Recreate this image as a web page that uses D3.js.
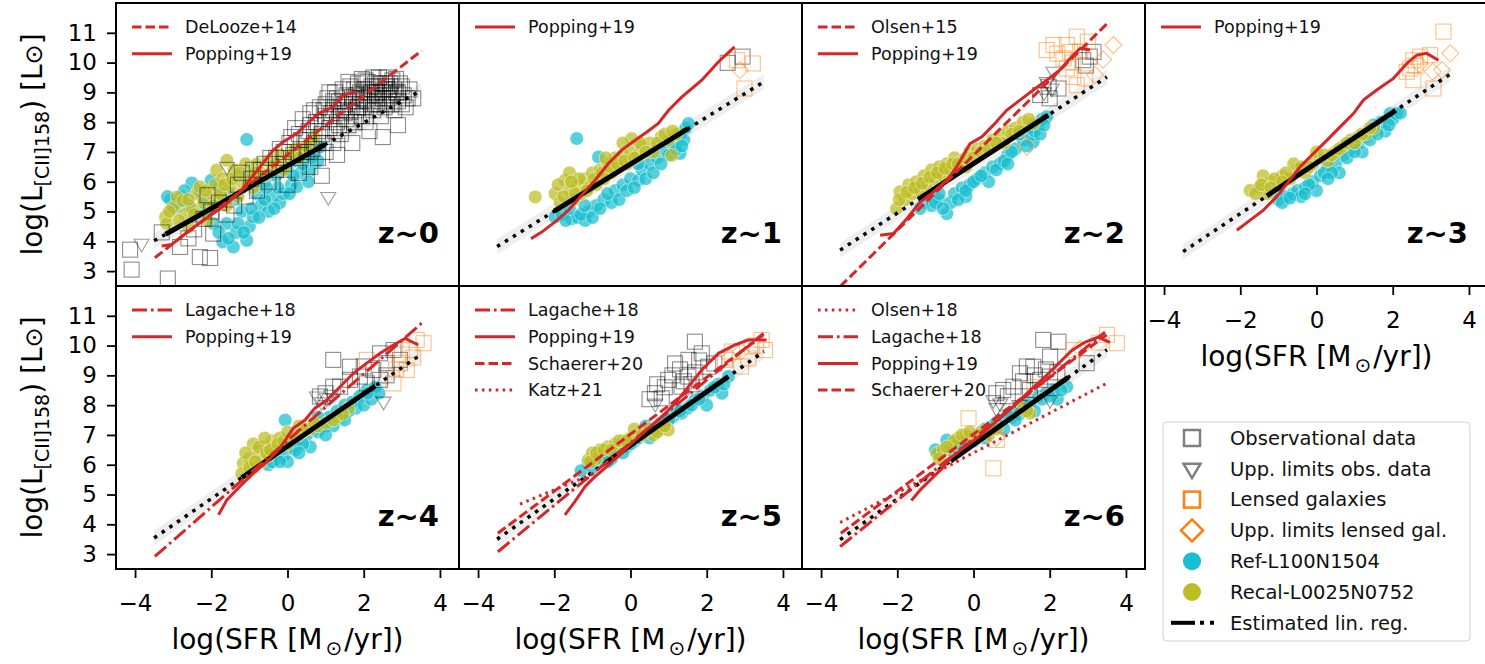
<!DOCTYPE html>
<html>
<head>
<meta charset="utf-8">
<script src="https://cdn.jsdelivr.net/npm/d3@7"></script>
<style>
  body { margin: 0; background: #fff; }
  svg { display: block; font-family: "DejaVu Sans", sans-serif; }
</style>
</head>
<body>
<svg id="chart" width="1485" height="664"></svg>
<script>
// ---- data ----
const zLabels = ["z~0", "z~1", "z~2", "z~3", "z~4", "z~5", "z~6"];
const xTicks = [-4, -2, 0, 2, 4];
const yTicks = [3, 4, 5, 6, 7, 8, 9, 10, 11];

// linear regression (intercept, slope), solid range = where the simulations sit
const regIntercept = [6.54, 6.59, 6.61, 6.63, 6.62, 6.65, 6.67];
const regSlope = [0.72, 0.79, 0.83, 0.85, 0.88, 0.90, 0.91];
const regSolid = [[-3.2, 0.98], [-2.0, 1.52], [-1.45, 1.96], [-1.3, 2.08], [-1.2, 2.3], [-0.65, 2.57], [-0.6, 2.49]];
const regExtent = [-3.5, 3.5];
const regScatter = 0.25;

// literature relations
const deLooze14 = [[-3.48, 3.45], [3.52, 10.40]];
const olsen15 = [[-3.5, 2.48], [3.5, 11.3]];
const lagache18z4 = [[-3.48, 2.92], [3.52, 10.75]];
const lagache18z5 = [[-3.48, 3.08], [3.49, 10.41]];
const lagache18z6 = [[-3.5, 3.25], [3.45, 10.45]];
const schaerer20 = [[-3.48, 3.70], [3.49, 10.36]];
const katz21 = [[-2.9, 4.68], [-0.9, 5.74]];
const olsen18 = [[-3.5, 4.06], [3.49, 8.73]];

const popping19 = [
  [[-3.30,3.84],[-3.04,3.89],[-2.82,4.12],[-2.56,4.37],[-2.30,4.62],[-1.95,4.93],[-1.59,5.27],[-1.25,5.66],[-1.03,6.0],[-0.72,6.5],[-0.37,7.06],[-0.11,7.34],[0.24,7.62],[0.50,7.93],[0.81,8.29],[1.20,8.51],[1.47,8.91],[1.60,8.96],[1.82,9.0]],
  [[-2.61,4.09],[-2.33,4.31],[-1.98,4.65],[-1.63,5.04],[-1.28,5.55],[-0.93,6.05],[-0.58,6.61],[-0.23,7.06],[0.12,7.39],[0.43,7.67],[0.73,7.96],[1.0,8.40],[1.35,8.85],[1.87,9.41],[2.31,10.03],[2.73,10.53]],
  [[-2.45,4.20],[-2.10,4.26],[-1.75,4.76],[-1.40,5.32],[-1.05,5.66],[-0.70,6.05],[-0.44,6.50],[-0.09,7.28],[0.22,7.51],[0.52,7.90],[0.87,8.40],[1.22,8.74],[1.57,9.08],[1.92,9.41],[2.27,9.75],[2.53,10.14],[2.80,10.48],[3.06,10.42]],
  [[-2.09,4.37],[-1.74,4.71],[-1.40,5.04],[-1.05,5.49],[-0.74,5.99],[-0.43,6.50],[-0.08,6.95],[0.27,7.39],[0.62,7.84],[0.97,8.29],[1.23,8.74],[1.58,9.08],[2.02,9.47],[2.37,9.97],[2.63,10.25],[2.89,10.31],[3.20,10.08]],
  [[-1.81,4.32],[-1.59,4.82],[-1.25,5.27],[-0.90,5.71],[-0.54,6.10],[-0.20,6.55],[0.15,7.22],[0.46,7.50],[0.72,7.90],[1.03,8.17],[1.38,8.62],[1.73,9.07],[2.08,9.41],[2.43,9.74],[2.78,10.02],[3.09,10.24],[3.43,10.02]],
  [[-1.72,4.32],[-1.46,4.76],[-1.19,5.27],[-0.93,5.60],[-0.58,5.99],[-0.23,6.39],[0.12,6.83],[0.47,7.22],[0.82,7.61],[1.17,8.06],[1.52,8.62],[1.87,9.18],[2.31,9.74],[2.74,10.02],[3.09,10.19],[3.57,10.19]],
  [[-1.63,4.80],[-1.37,5.19],[-1.11,5.52],[-0.84,5.86],[-0.58,6.25],[-0.23,6.59],[0.12,6.92],[0.47,7.31],[0.82,7.70],[1.17,8.10],[1.52,8.54],[1.87,8.94],[2.22,9.38],[2.57,9.83],[2.92,10.11],[3.27,10.28],[3.58,10.11]]
];

// which relations appear in each panel, in legend order
const panelModels = [
  [["DeLooze+14", "dash", deLooze14], ["Popping+19", "solid", popping19[0]]],
  [["Popping+19", "solid", popping19[1]]],
  [["Olsen+15", "dash", olsen15], ["Popping+19", "solid", popping19[2]]],
  [["Popping+19", "solid", popping19[3]]],
  [["Lagache+18", "dashdot", lagache18z4], ["Popping+19", "solid", popping19[4]]],
  [["Lagache+18", "dashdot", lagache18z5], ["Popping+19", "solid", popping19[5]], ["Schaerer+20", "dash", schaerer20], ["Katz+21", "dot", katz21]],
  [["Olsen+18", "dot", olsen18], ["Lagache+18", "dashdot", lagache18z6], ["Popping+19", "solid", popping19[6]], ["Schaerer+20", "dash", schaerer20]]
];

// observational data
const obsData = [
  [[-4.13,3.72],[-4.09,3.05],[-3.14,2.75],[-2.82,3.81],[-2.30,3.47],[-2.03,3.44],[-1.95,4.26],[-3.3,4.3],[-2.6,4.1],[-2.45,4.4],[-2.2,4.75],[-2.0,5.0],[-1.8,5.3],[-2.1,5.55],[-1.6,4.9],[-1.4,5.2],[-1.3,5.9],[-1.1,5.5],[-0.95,6.1],[-0.8,5.7],[-0.7,6.4],[-0.5,6.0],[-0.45,6.8],[-0.3,6.4],[-0.2,7.1],[-0.1,6.6],[0.0,5.9],[0.05,7.3],[0.15,6.9],[0.2,7.8],[0.3,6.3],[0.35,7.4],[0.4,8.1],[0.5,7.0],[0.55,7.7],[0.6,8.3],[0.7,7.3],[0.75,8.0],[0.8,6.8],[0.85,8.5],[0.9,7.6],[1.0,8.2],[1.0,7.0],[1.05,8.8],[1.1,7.8],[1.2,8.4],[1.2,7.3],[1.25,9.0],[1.3,8.0],[1.35,8.7],[1.4,7.6],[1.45,9.1],[1.5,8.3],[1.55,8.9],[1.6,7.9],[1.65,9.2],[1.7,8.5],[1.75,8.0],[1.8,8.9],[1.85,9.3],[1.9,8.6],[1.95,8.2],[2.0,9.1],[2.05,9.4],[2.1,8.7],[2.15,7.7],[2.2,9.0],[2.25,8.4],[2.3,9.3],[2.35,8.8],[2.4,9.5],[2.45,8.2],[2.5,9.0],[2.55,9.3],[2.6,8.6],[2.65,9.1],[2.7,8.9],[2.75,9.4],[2.8,8.4],[2.85,9.0],[2.9,8.7],[2.95,9.3],[3.05,8.9],[3.1,8.5],[3.2,9.1],[3.3,8.8],[2.9,7.9],[2.5,7.5],[1.7,7.3],[1.3,6.9],[0.6,6.5],[0.9,6.2],[1.6,8.7],[1.8,8.4],[2.0,8.8],[2.2,9.2],[2.4,8.9],[1.4,8.4],[1.1,8.1],[0.8,7.7],[2.6,9.2],[2.3,8.6],[1.9,9.0],[2.1,9.35],[2.7,9.3],[1.5,8.6],
   [0.6,7.9],[0.7,8.4],[0.9,8.0],[1.0,8.6],[1.1,9.0],[1.15,8.3],[1.3,8.8],[1.35,7.9],[1.45,8.5],[1.55,8.1],[1.6,9.35],[1.7,8.8],[1.75,9.1],[1.8,8.2],[1.9,8.8],[1.95,9.45],[2.0,8.5],[2.05,8.0],[2.1,9.1],[2.15,8.9],[2.2,8.6],[2.25,9.5],[2.3,8.9],[2.35,9.2],[2.4,8.6],[2.45,9.3],[2.5,8.8],[2.55,8.5],[2.6,9.5],[2.65,8.8],[2.7,9.2],[2.75,8.6],[2.8,9.1],[2.85,9.45],[2.9,9.0],[3.0,9.2],[3.0,8.6],[3.15,8.8],[1.2,8.7],[0.95,8.4],[0.5,7.5],[0.3,7.6],[0.1,7.5],[-0.1,7.0],[-0.3,6.8],[-0.6,6.6],[-0.9,6.4],[-1.2,6.3],[1.85,8.5],[2.05,8.75],[2.35,9.0],[2.55,9.1],[1.65,8.35],[1.4,8.2],[1.25,7.7],[0.95,7.3],[0.65,7.1],[0.35,6.9]],
  [[2.55,9.99],[2.94,10.2]],
  [[1.75,8.91],[1.97,9.19],[2.23,9.13],[2.0,8.8],[3.15,10.36],[2.88,10.08],[3.05,10.2],[2.95,9.9]],
  [],
  [[1.2,9.52],[0.85,8.29],[1.38,8.62],[1.64,8.85],[1.9,8.96],[2.25,9.18],[2.6,9.41],[2.43,9.74],[2.78,9.85],[2.95,9.52],[2.08,8.73],[1.64,9.29],[1.2,8.62],[2.43,8.85],[1.0,8.4],[2.0,9.3],[2.6,9.0]],
  [[1.69,10.13],[1.87,9.74],[1.52,9.52],[1.17,9.4],[0.99,8.85],[0.64,8.4],[0.82,8.23],[1.52,8.96],[2.04,9.29],[1.34,8.62],[0.5,8.2],[1.1,9.0],[1.3,9.2],[1.7,9.1],[0.9,8.6],[1.4,8.8],[1.8,9.5],[0.7,8.7],[2.2,9.4],[1.6,8.7]],
  [[1.83,10.19],[2.23,10.13],[2.01,9.63],[1.57,9.29],[1.75,8.85],[1.22,9.07],[0.78,8.51],[1.05,8.62],[1.48,8.51],[2.01,8.96],[2.97,9.41],[1.3,8.8],[1.6,9.0],[0.9,8.3],[1.9,9.2],[0.6,8.4],[1.4,9.3],[2.2,9.1]]
];
const obsLimits = [
  [[-3.83,3.92],[1.07,5.49],[-1.59,6.5]],
  [],
  [[1.92,9.35],[2.1,9.69],[2.05,9.13],[1.85,9.0]],
  [],
  [[0.77,8.29],[1.03,8.23],[2.52,8.12],[0.9,8.1],[1.15,8.35]],
  [[0.65,8.05]],
  [[0.52,8.17],[0.7,8.06],[2.01,8.17],[0.6,7.9],[1.2,8.0]]
];
const lensedData = [
  [],
  [[2.79,10.08],[3.21,9.97],[2.99,9.13]],
  [[1.92,10.42],[2.1,10.59],[2.45,10.59],[2.71,10.87],[2.80,10.36],[2.53,10.36],[2.36,10.14],[2.62,9.52],[2.71,9.24],[2.93,9.47],[2.2,10.3],[2.6,10.0],[2.45,9.8],[3.0,10.7]],
  [[3.33,11.04],[2.54,10.08],[2.46,9.8],[2.72,10.2],[2.98,10.25],[2.54,9.41],[3.07,9.13],[2.37,9.69],[2.6,9.9]],
  [[3.39,10.19],[3.57,10.08],[3.22,9.85],[2.95,9.41],[2.78,8.73],[3.13,9.18],[2.08,9.52],[3.0,9.7],[3.3,9.6],[2.85,9.2]],
  [[3.44,10.19],[3.18,9.97],[3.53,9.85],[2.48,9.52],[2.66,9.8],[3.09,9.57],[2.9,9.3],[3.3,10.0]],
  [[3.5,10.36],[3.76,10.08],[2.62,9.85],[-0.13,7.56],[0.52,5.88],[0.61,6.83],[3.3,10.1],[1.6,8.6]]
];
const lensedLimits = [
  [],
  [[2.875,9.75]],
  [[3.67,10.59],[3.19,9.58],[1.4,7.17],[3.4,10.1]],
  [[3.51,10.31],[3.29,9.75],[3.05,9.7],[2.7,9.95]],
  [],
  [[2.6,9.6],[2.9,9.8]],
  [[2.8,9.9],[0.6,6.9]]
];

// EAGLE simulations
const refL100 = [
  [[-3.07,5.38],[-3.15,5.5],[-2.95,5.1],[-2.8,5.5],[-2.51,5.96],[-2.6,5.2],[-2.3,5.7],[-2.2,5.0],[-2.0,6.05],[-1.9,5.3],[-1.7,3.98],[-1.6,4.6],[-1.5,5.6],[-1.42,3.81],[-1.35,4.3],[-1.2,5.0],[-1.07,7.42],[-1.07,4.03],[-1.0,4.5],[-0.9,4.82],[-0.8,5.6],[-0.7,5.2],[-0.6,6.0],[-0.5,5.0],[-0.4,5.5],[-0.3,6.2],[-0.2,5.3],[-0.11,5.6],[0.0,6.4],[0.1,5.9],[0.2,6.7],[0.24,5.83],[0.35,6.3],[0.5,6.9],[0.59,6.39],[0.7,7.1],[0.85,7.17],[0.8,6.7],[-1.3,6.2],[-0.9,6.3],[-2.4,4.9],[-1.8,5.8],
   [-2.9,5.3],[-2.7,5.7],[-2.2,5.4],[-1.95,4.6],[-1.8,4.3],[-1.55,4.1],[-1.3,4.6],[-1.15,4.3],[-0.95,5.1],[-0.75,4.8],[-0.6,5.4],[-0.35,5.1],[-0.25,5.8],[0.05,5.6],[0.15,6.2],[0.4,6.6],[0.55,6.0],[0.65,6.8],[-1.4,5.4],[-0.55,5.8]],
  [[-1.98,4.82],[-1.8,4.9],[-1.54,4.76],[-1.4,4.8],[-1.19,4.7],[-1.1,5.0],[-1.41,7.45],[-0.84,6.83],[-0.9,5.2],[-0.7,5.4],[-0.5,5.3],[-0.4,5.7],[-0.2,5.9],[0.0,6.1],[0.21,6.05],[0.3,6.4],[0.5,6.6],[0.7,6.8],[0.9,7.1],[1.1,7.3],[1.3,6.95],[1.3,7.6],[1.45,7.8],[1.52,7.95],[1.4,7.4],[1.0,6.9],[-1.6,5.1],[-0.3,5.4],
   [-1.7,4.7],[-1.3,4.9],[-1.0,4.8],[-0.8,5.1],[-0.6,5.6],[-0.1,5.7],[0.1,5.8],[0.4,6.1],[0.6,6.3],[0.8,6.6],[1.2,7.1],[1.35,7.2],[-1.2,5.2],[0.2,6.6]],
  [[-1.3,5.3],[-1.1,5.2],[-0.9,5.4],[-0.7,4.93],[-0.6,5.3],[-0.5,5.6],[-0.3,5.8],[-0.1,5.9],[0.1,6.1],[0.3,6.3],[0.5,6.5],[0.7,6.61],[0.9,6.9],[1.1,7.1],[1.3,7.4],[1.5,7.6],[1.57,7.34],[1.7,7.9],[1.8,8.1],[1.92,8.18],[1.2,7.6],[0.4,6.0],[-0.2,5.5],
   [-1.4,5.1],[-1.0,5.3],[-0.8,5.1],[-0.4,5.4],[-0.2,5.7],[0.0,6.0],[0.2,6.2],[0.6,6.4],[0.8,6.7],[1.0,7.0],[1.4,7.2],[1.6,7.7],[1.75,7.6],[1.85,7.9],[0.9,6.6],[-0.9,5.6]],
  [[-1.0,5.4],[-0.8,5.5],[-0.61,5.6],[-0.5,5.7],[-0.3,5.8],[-0.1,6.0],[0.1,6.2],[0.3,6.5],[0.5,6.6],[0.7,6.9],[0.9,7.1],[1.1,7.3],[1.3,7.5],[1.5,7.7],[1.7,8.0],[1.93,8.29],[2.1,8.3],[1.8,7.7],[1.2,7.0],[0.6,6.3],[0.0,5.7],[-0.4,5.5],[1.5,7.9],[2.0,8.1],
   [-0.9,5.3],[-0.7,5.45],[-0.2,5.9],[0.2,6.3],[0.4,6.3],[0.8,6.8],[1.0,7.0],[1.4,7.4],[1.6,7.6],[1.9,7.9],[2.2,8.3],[-0.3,5.6],[0.3,6.1],[1.0,7.3]],
  [[-0.06,7.5],[-0.5,6.0],[-0.3,6.2],[-0.1,6.3],[0.1,6.6],[0.3,6.8],[0.5,7.0],[0.7,7.2],[0.9,7.4],[1.1,7.6],[1.3,7.8],[1.5,8.0],[1.7,8.1],[1.9,8.3],[2.08,8.51],[2.3,8.6],[1.2,7.3],[0.6,6.6],[1.8,7.9],[0.0,6.1],[2.0,8.0],
   [-0.4,6.1],[-0.2,6.1],[0.2,6.5],[0.4,6.7],[0.8,7.1],[1.0,7.3],[1.4,7.6],[1.6,7.8],[2.2,8.2],[2.4,8.4],[0.3,6.4],[1.0,7.0],[1.5,7.5],[2.1,8.4],[0.8,7.6]],
  [[-1.11,6.05],[-0.9,6.1],[-0.7,6.3],[-0.5,6.2],[-0.3,6.5],[-0.1,6.6],[0.1,6.8],[0.3,7.0],[0.5,7.1],[0.7,7.3],[0.9,7.5],[1.1,7.6],[1.34,7.73],[1.5,7.9],[1.69,8.17],[1.9,8.3],[2.1,8.5],[2.3,8.7],[2.57,8.96],[2.4,8.4],[1.2,7.9],[0.4,7.3],[-1.3,5.8],[2.0,8.0],
   [-1.0,5.9],[-0.8,6.2],[-0.6,6.1],[-0.4,6.4],[-0.2,6.4],[0.0,6.7],[0.2,6.9],[0.6,7.2],[0.8,7.4],[1.0,7.5],[1.3,7.8],[1.6,8.0],[1.8,8.2],[2.2,8.6],[2.45,8.7],[0.5,6.9]],
  [[-0.7,6.83],[-1.0,6.5],[-0.5,6.6],[-0.3,6.8],[-0.1,6.9],[0.1,7.0],[0.3,7.2],[0.5,7.3],[0.7,7.5],[0.9,7.7],[1.1,7.8],[1.3,8.0],[1.5,8.1],[1.7,8.3],[1.9,8.4],[2.1,8.5],[2.45,8.62],[2.2,8.2],[1.6,7.8],[0.8,7.2],
   [-0.9,6.4],[-0.6,6.5],[-0.4,6.7],[-0.2,6.8],[0.0,6.8],[0.2,7.0],[0.4,7.2],[0.6,7.4],[1.0,7.6],[1.2,7.7],[1.4,8.0],[1.8,8.2],[2.0,8.3],[2.3,8.5],[0.3,6.9],[1.1,7.5]]
];
const recalL25 = [
  [[-3.2,4.82],[-3.17,4.6],[-3.0,5.14],[-2.9,5.49],[-2.75,5.36],[-2.7,4.9],[-2.5,5.1],[-2.38,5.6],[-2.3,5.83],[-2.2,5.3],[-2.1,4.7],[-2.0,5.6],[-1.9,5.9],[-1.86,6.39],[-1.8,5.4],[-1.7,6.1],[-1.59,6.72],[-1.5,5.8],[-1.4,6.4],[-1.3,5.5],[-1.2,6.0],[-1.1,6.6],[-1.0,6.2],[-0.9,5.8],[-0.8,6.6],[-0.7,6.3],[-0.5,6.7],[-0.4,6.4],[-0.2,6.9],[0.0,6.7],[0.2,7.1],[0.4,7.0],[0.59,7.28],[0.7,7.5],[-2.6,4.5],[-1.6,5.2],
   [-3.1,5.0],[-2.85,4.7],[-2.6,5.4],[-2.45,4.9],[-2.15,5.7],[-1.95,5.2],[-1.75,5.6],[-1.65,5.9],[-1.45,6.1],[-1.25,6.3],[-1.05,5.9],[-0.85,6.3],[-0.6,6.2],[-0.3,6.6],[-0.1,6.4],[0.1,6.9],[0.3,6.8],[0.5,7.2]],
  [[-2.5,5.49],[-1.98,5.6],[-1.85,5.3],[-1.72,6.05],[-1.6,5.7],[-1.5,5.4],[-1.4,5.9],[-1.3,5.6],[-1.2,6.1],[-1.1,5.8],[-1.0,6.3],[-0.9,5.9],[-0.8,6.4],[-0.7,6.1],[-0.6,6.6],[-0.5,6.3],[-0.4,6.8],[-0.3,6.5],[-0.2,6.9],[-0.1,6.6],[0.0,7.0],[0.03,7.45],[0.2,6.9],[0.3,7.2],[0.5,7.3],[0.6,7.0],[0.8,7.5],[1.0,7.4],[1.08,6.89],[1.2,7.6],[-1.6,6.3],[-0.2,7.3],
   [-1.9,5.9],[-1.75,5.5],[-1.45,5.6],[-1.35,6.1],[-1.15,5.7],[-0.95,6.1],[-0.75,6.3],[-0.55,6.5],[-0.35,6.6],[-0.15,6.7],[0.1,6.8],[0.25,7.3],[0.4,7.0],[0.7,7.3],[0.9,7.6],[1.1,7.7],[-1.55,6.0],[-0.65,6.8]],
  [[-2.02,5.1],[-1.93,5.66],[-1.8,5.4],[-1.7,5.9],[-1.6,5.6],[-1.5,6.0],[-1.4,5.7],[-1.3,6.2],[-1.2,5.9],[-1.1,6.4],[-1.0,6.1],[-0.9,6.5],[-0.8,6.2],[-0.7,6.6],[-0.6,6.4],[-0.5,6.8],[-0.3,6.7],[-0.1,7.0],[0.1,7.1],[0.3,7.2],[0.5,7.4],[0.7,7.5],[0.9,7.7],[1.1,7.8],[1.3,8.0],[1.57,7.95],[0.8,7.3],[-0.2,6.5],
   [-1.95,5.4],[-1.75,5.65],[-1.55,5.8],[-1.35,5.95],[-1.15,6.15],[-0.95,6.3],[-0.75,6.45],[-0.55,6.6],[-0.4,6.6],[-0.2,6.8],[0.0,6.8],[0.2,7.0],[0.4,7.1],[0.6,7.3],[1.0,7.6],[1.2,7.7],[1.45,8.1]],
  [[-1.74,5.71],[-1.5,5.8],[-1.3,5.6],[-1.2,6.0],[-1.0,5.9],[-0.9,6.2],[-0.7,6.1],[-0.5,6.4],[-0.3,6.3],[-0.1,6.6],[0.1,6.8],[0.3,6.7],[0.5,7.0],[0.7,7.2],[0.9,7.4],[1.1,7.5],[1.3,7.6],[1.5,7.8],[-0.6,6.6],[0.0,7.0],[-1.4,6.2],
   [-1.6,5.6],[-1.45,5.9],[-1.1,6.1],[-0.8,6.3],[-0.4,6.5],[-0.2,6.5],[0.2,6.9],[0.4,6.9],[0.6,7.1],[0.8,7.3],[1.0,7.3],[1.2,7.6],[1.4,7.8],[-0.9,6.0],[-1.2,5.8]],
  [[-1.16,6.05],[-1.2,5.7],[-1.0,6.2],[-0.9,5.9],[-0.8,6.4],[-0.7,6.1],[-0.6,6.6],[-0.5,6.3],[-0.4,6.8],[-0.3,6.5],[-0.2,6.9],[0.0,6.7],[0.2,7.0],[0.4,7.1],[0.6,7.2],[0.8,7.3],[1.0,7.4],[1.3,7.6],[1.6,7.9],[-0.9,6.7],[0.3,7.3],
   [-1.1,6.4],[-1.0,5.9],[-0.85,6.1],[-0.75,6.6],[-0.55,6.4],[-0.45,6.5],[-0.25,6.7],[-0.1,6.8],[0.1,6.9],[0.3,7.0],[0.5,7.2],[0.7,7.4],[1.2,7.5],[1.45,7.7],[-0.6,6.9],[0.0,7.1]],
  [[-1.11,6.16],[-1.0,6.4],[-0.8,6.5],[-0.6,6.6],[-0.4,6.7],[-0.2,6.8],[0.0,6.9],[0.2,7.0],[0.4,7.1],[0.6,7.0],[0.8,7.2],[0.99,7.17],[-0.9,6.2],[0.1,7.2],
   [-1.05,6.1],[-0.9,6.4],[-0.7,6.5],[-0.5,6.5],[-0.3,6.8],[-0.1,6.8],[0.3,7.0],[0.5,7.2],[0.7,7.1],[0.9,7.3]],
  [[-0.96,6.38],[-0.8,6.5],[-0.6,6.6],[-0.4,6.9],[-0.2,7.0],[0.0,6.9],[0.2,7.1],[0.4,7.0],[1.48,7.73],[1.3,7.9],[-0.5,6.8],
   [-0.9,6.2],[-0.7,6.6],[-0.3,7.0],[-0.1,7.1],[0.1,6.9],[0.3,7.1],[1.4,7.8],[0.6,7.2]]
];

const legendLabels = ["Observational data", "Upp. limits obs. data", "Lensed galaxies",
  "Upp. limits lensed gal.", "Ref-L100N1504", "Recal-L0025N0752", "Estimated lin. reg."];

// ---- layout / style ----
const LEFT = 116, TOP = 3, PW = 343, PH = 283;
const RED = "#d62728", CYAN = "#17becf", OLIVE = "#bcbd22", ORANGE = "#ff7f0e";
const dashes = { solid: null, dash: "9.5,4", dashdot: "15,4,2.6,4", dot: "2.6,4.3" };

const svg = d3.select("#chart");
const defs = svg.append("defs");
const x = d3.scaleLinear().domain([-4.5, 4.5]).range([0, PW]);
const y = d3.scaleLinear().domain([2.5, 12]).range([PH, 0]);
const line = d3.line().x(d => x(d[0])).y(d => y(d[1]));

function translate(a, b) { return "translate(" + a + "," + b + ")"; }

const trianglePath = r => `M${-r},${-r * 0.6} L${r},${-r * 0.6} L0,${r * 1.1} Z`;
const diamondPath = r => `M0,${-r} L${r},0 L0,${r} L${-r},0 Z`;

function addXLabel(g, cx, cy) {
  const t = g.append("text").attr("x", cx).attr("y", cy).attr("text-anchor", "middle")
    .style("font-size", "28px").attr("fill", "#000");
  t.append("tspan").text("log(SFR [M");
  t.append("tspan").attr("dy", 6).attr("dx", 3).style("font-size", "20px").text("⊙");
  t.append("tspan").attr("dy", -6).attr("dx", 2).text("/yr])");
}

zLabels.forEach(function (zl, i) {
  const col = i % 4, row = Math.floor(i / 4);
  const g = svg.append("g").attr("transform", translate(LEFT + col * PW, TOP + row * PH));
  defs.append("clipPath").attr("id", "clip" + i).append("rect").attr("width", PW).attr("height", PH);
  const plot = g.append("g").attr("clip-path", "url(#clip" + i + ")");

  // regression scatter band
  const a = regIntercept[i], b = regSlope[i];
  const x0 = regExtent[0], x1 = regExtent[1];
  plot.append("path")
    .attr("d", line([[x0, a + b * x0 + regScatter], [x1, a + b * x1 + regScatter],
                     [x1, a + b * x1 - regScatter], [x0, a + b * x0 - regScatter]]) + "Z")
    .attr("fill", "#d9d9d9").attr("fill-opacity", 0.45);

  // simulations
  [[refL100[i], CYAN], [recalL25[i], OLIVE]].forEach(function (s) {
    plot.selectAll(null).data(s[0]).enter().append("circle")
      .attr("cx", d => x(d[0])).attr("cy", d => y(d[1])).attr("r", 6.8)
      .attr("fill", s[1]).attr("fill-opacity", 0.72)
      .attr("stroke", "#fff").attr("stroke-width", 0.6).attr("stroke-opacity", 0.8);
  });

  // observations
  plot.selectAll(null).data(obsData[i]).enter().append("rect")
    .attr("x", d => x(d[0]) - 7.5).attr("y", d => y(d[1]) - 7.5).attr("width", 15).attr("height", 15)
    .attr("fill", "none").attr("stroke", "#000").attr("stroke-opacity", 0.45).attr("stroke-width", 1.1);
  plot.selectAll(null).data(obsLimits[i]).enter().append("path")
    .attr("d", trianglePath(7.5)).attr("transform", d => translate(x(d[0]), y(d[1])))
    .attr("fill", "none").attr("stroke", "#000").attr("stroke-opacity", 0.4).attr("stroke-width", 1.1);
  plot.selectAll(null).data(lensedData[i]).enter().append("rect")
    .attr("x", d => x(d[0]) - 7.5).attr("y", d => y(d[1]) - 7.5).attr("width", 15).attr("height", 15)
    .attr("fill", "none").attr("stroke", ORANGE).attr("stroke-opacity", 0.5).attr("stroke-width", 1.1);
  plot.selectAll(null).data(lensedLimits[i]).enter().append("path")
    .attr("d", diamondPath(8.5)).attr("transform", d => translate(x(d[0]), y(d[1])))
    .attr("fill", "none").attr("stroke", ORANGE).attr("stroke-opacity", 0.5).attr("stroke-width", 1.1);

  // regression: dotted over full range, solid where the sims are
  plot.append("path").attr("d", line([[x0, a + b * x0], [x1, a + b * x1]]))
    .attr("fill", "none").attr("stroke", "#000").attr("stroke-width", 3.5).attr("stroke-dasharray", "3.5,5.8");
  const s0 = regSolid[i][0], s1 = regSolid[i][1];
  plot.append("path").attr("d", line([[s0, a + b * s0], [s1, a + b * s1]]))
    .attr("fill", "none").attr("stroke", "#000").attr("stroke-width", 5);

  // literature relations
  panelModels[i].forEach(function (m) {
    plot.append("path").attr("d", line(m[2]))
      .attr("fill", "none").attr("stroke", RED).attr("stroke-width", 3)
      .attr("stroke-dasharray", dashes[m[1]]);
  });

  // panel legend
  panelModels[i].forEach(function (m, k) {
    const ly = 24 + k * 26.7;
    g.append("line").attr("x1", 16).attr("x2", 56).attr("y1", ly).attr("y2", ly)
      .attr("stroke", RED).attr("stroke-width", 3).attr("stroke-dasharray", dashes[m[1]]);
    g.append("text").attr("x", 69).attr("y", ly).attr("dy", "0.35em")
      .style("font-size", "17.5px").attr("fill", "#111").text(m[0]);
  });

  // redshift label
  g.append("text").attr("x", PW - 20).attr("y", 240).attr("text-anchor", "end")
    .style("font-size", "29px").style("font-weight", "bold").text(zl);

  // frame
  g.append("rect").attr("width", PW).attr("height", PH)
    .attr("fill", "none").attr("stroke", "#000").attr("stroke-width", 2);

  // axes
  if (col === 0) {
    const ya = g.append("g").call(d3.axisLeft(y).tickValues(yTicks).tickSize(9).tickPadding(10));
    ya.select(".domain").remove();
    ya.selectAll("line").attr("stroke-width", 1.8);
    ya.selectAll("text").style("font-size", "23px").style("font-family", "DejaVu Sans");
    const t = g.append("text").attr("transform", translate(-74, PH / 2) + " rotate(-90)")
      .attr("text-anchor", "middle").style("font-size", "28px");
    t.append("tspan").text("log(L");
    t.append("tspan").attr("dy", 7).style("font-size", "19px").text("[CII]158");
    t.append("tspan").attr("dy", -7).text(")  [L");
    t.append("tspan").style("font-size", "24px").text("⊙");
    t.append("tspan").text("]");
  }
  if (row === 1 || i === 3) {
    const xa = g.append("g").attr("transform", translate(0, PH))
      .call(d3.axisBottom(x).tickValues(xTicks).tickSize(9).tickPadding(17));
    xa.select(".domain").remove();
    xa.selectAll("line").attr("stroke-width", 1.8);
    xa.selectAll("text").style("font-size", "23px").style("font-family", "DejaVu Sans");
    addXLabel(g, PW / 2, PH + 80);
  }
});

// ---- figure legend (bottom right) ----
const leg = svg.append("g").attr("transform", translate(1163, 422));
leg.append("rect").attr("width", 307).attr("height", 219).attr("rx", 4)
  .attr("fill", "#fff").attr("fill-opacity", 0.8).attr("stroke", "#d0d0d0").attr("stroke-width", 1);
const mx = 29, rowY = k => 16 + k * 30.8;
leg.append("rect").attr("x", mx - 8).attr("y", rowY(0) - 8).attr("width", 16).attr("height", 16)
  .attr("fill", "none").attr("stroke", "#808080").attr("stroke-width", 2.5);
leg.append("path").attr("d", trianglePath(8.5)).attr("transform", translate(mx, rowY(1)))
  .attr("fill", "none").attr("stroke", "#808080").attr("stroke-width", 2.5);
leg.append("rect").attr("x", mx - 8).attr("y", rowY(2) - 8).attr("width", 16).attr("height", 16)
  .attr("fill", "none").attr("stroke", ORANGE).attr("stroke-width", 2.5);
leg.append("path").attr("d", diamondPath(11)).attr("transform", translate(mx, rowY(3)))
  .attr("fill", "none").attr("stroke", ORANGE).attr("stroke-width", 2.5);
leg.append("circle").attr("cx", mx).attr("cy", rowY(4)).attr("r", 9).attr("fill", CYAN);
leg.append("circle").attr("cx", mx).attr("cy", rowY(5)).attr("r", 9).attr("fill", OLIVE);
leg.append("line").attr("x1", 8).attr("x2", 32).attr("y1", rowY(6)).attr("y2", rowY(6))
  .attr("stroke", "#000").attr("stroke-width", 4);
leg.append("line").attr("x1", 37).attr("x2", 51).attr("y1", rowY(6)).attr("y2", rowY(6))
  .attr("stroke", "#000").attr("stroke-width", 4).attr("stroke-dasharray", "4,6");
legendLabels.forEach(function (lab, k) {
  leg.append("text").attr("x", 67).attr("y", rowY(k)).attr("dy", "0.35em")
    .style("font-size", "19.5px").attr("fill", "#111").text(lab);
});
</script>
</body>
</html>
